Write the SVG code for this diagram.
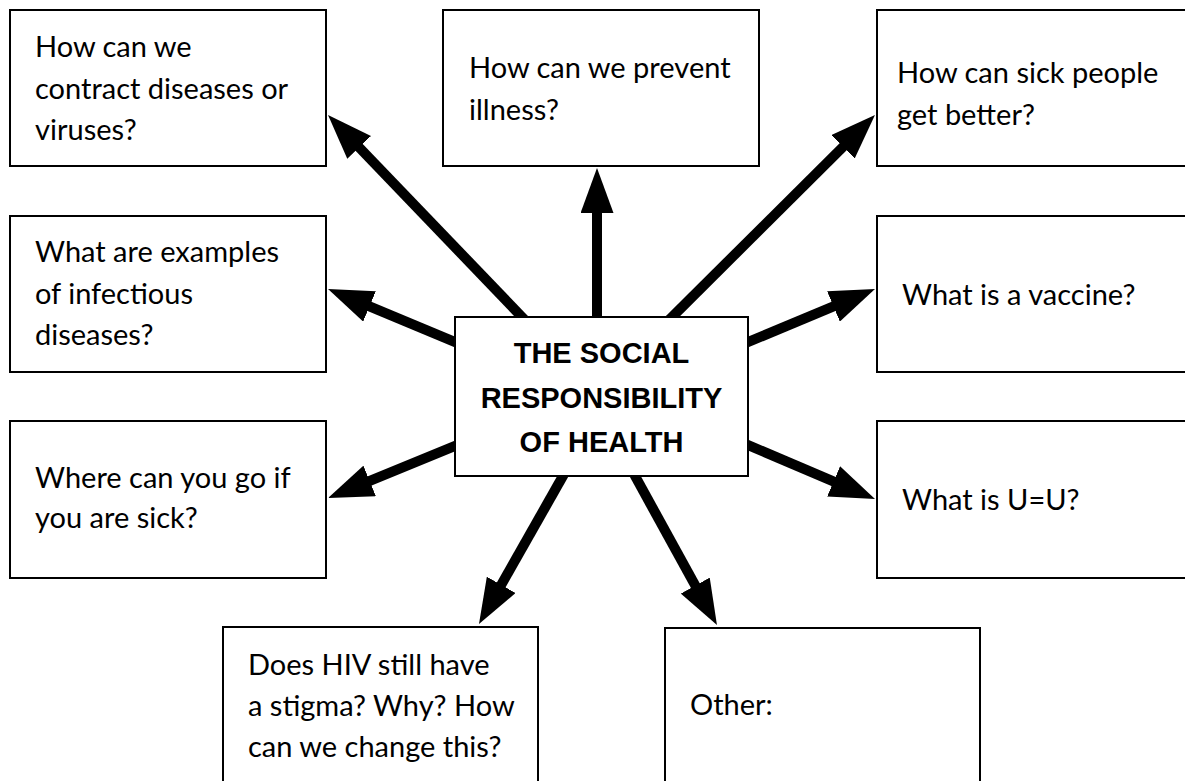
<svg xmlns="http://www.w3.org/2000/svg" width="1185" height="781" viewBox="0 0 1185 781">
<style>
.box{fill:#fff;stroke:#000;stroke-width:2}
.t{font-family:Lato,"Open Sans","Liberation Sans",sans-serif;font-size:29px;fill:#000}
.c{font-family:"Liberation Sans",Arial,sans-serif;font-size:29px;font-weight:bold;fill:#000;text-anchor:middle}
.arr{stroke:#000;stroke-width:10;fill:none;marker-end:url(#head)}
</style>
<defs>
<marker id="head" markerUnits="userSpaceOnUse" markerWidth="45" markerHeight="33" viewBox="0 0 45 33" refX="15" refY="16.5" orient="auto">
<path d="M0,0 L45,16.5 L0,33 z" fill="#000"/>
</marker>
</defs>
<rect width="1185" height="781" fill="#fff"/>
<g id="connectors">
<line class="arr" x1="528.9" y1="324.2" x2="348.8" y2="136.6"/>
<line class="arr" x1="597" y1="327" x2="597" y2="198"/>
<line class="arr" x1="664.9" y1="324.1" x2="853.7" y2="136.2"/>
<line class="arr" x1="464.2" y1="345.9" x2="355.7" y2="300.6"/>
<line class="arr" x1="464.3" y1="442.2" x2="355.8" y2="486.6"/>
<line class="arr" x1="567.9" y1="467.3" x2="493.8" y2="597.9"/>
<line class="arr" x1="630.2" y1="467.2" x2="702.5" y2="598.7"/>
<line class="arr" x1="738.8" y1="345.9" x2="847.3" y2="300.6"/>
<line class="arr" x1="738.8" y1="441.1" x2="847.4" y2="487.3"/>
</g>
<g id="center">
<rect class="box" x="455" y="317" width="293" height="159"/>
<text class="c" x="601.5" y="363">THE SOCIAL</text>
<text class="c" x="601.5" y="408">RESPONSIBILITY</text>
<text class="c" x="601.5" y="452">OF HEALTH</text>
</g>
<g id="contract">
<rect class="box" x="10" y="10" width="316" height="156"/>
<text class="t" x="35" y="57">How can we</text>
<text class="t" x="35" y="99">contract diseases or</text>
<text class="t" x="35" y="140">viruses?</text>
</g>
<g id="prevent">
<rect class="box" x="443" y="10" width="316" height="156"/>
<text class="t" x="469" y="78">How can we prevent</text>
<text class="t" x="469" y="120">illness?</text>
</g>
<g id="better">
<rect class="box" x="877" y="10" width="316" height="156"/>
<text class="t" x="897" y="83">How can sick people</text>
<text class="t" x="897" y="125">get better?</text>
</g>
<g id="examples">
<rect class="box" x="10" y="216" width="316" height="156"/>
<text class="t" x="35" y="262">What are examples</text>
<text class="t" x="35" y="304">of infectious</text>
<text class="t" x="35" y="345">diseases?</text>
</g>
<g id="vaccine">
<rect class="box" x="877" y="216" width="316" height="156"/>
<text class="t" x="902" y="305">What is a vaccine?</text>
</g>
<g id="where">
<rect class="box" x="10" y="421" width="316" height="157"/>
<text class="t" x="35" y="488">Where can you go if</text>
<text class="t" x="35" y="528">you are sick?</text>
</g>
<g id="uequ">
<rect class="box" x="877" y="421" width="316" height="157"/>
<text class="t" x="902" y="510">What is U=U?</text>
</g>
<g id="hiv">
<rect class="box" x="223" y="627" width="315" height="170"/>
<text class="t" x="248" y="675">Does HIV still have</text>
<text class="t" x="248" y="716">a stigma? Why? How</text>
<text class="t" x="248" y="757">can we change this?</text>
</g>
<g id="other">
<rect class="box" x="665" y="628" width="315" height="170"/>
<text class="t" x="690" y="715">Other:</text>
</g>
</svg>
